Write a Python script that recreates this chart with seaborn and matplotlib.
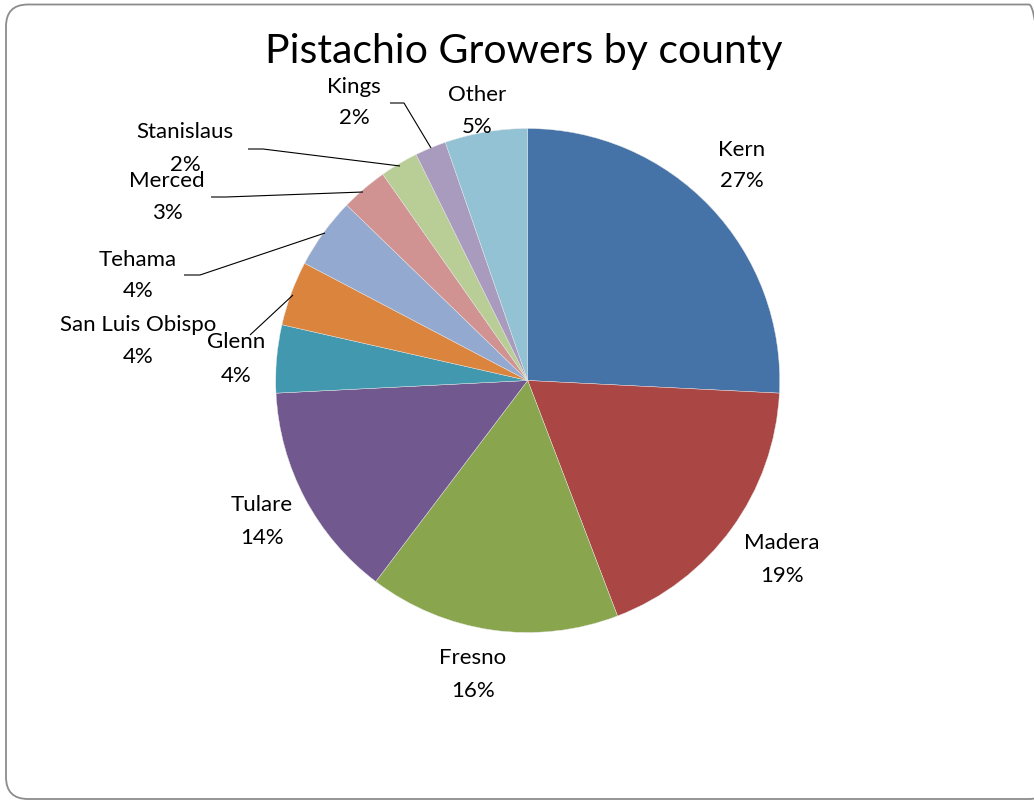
import matplotlib
matplotlib.use("Agg")
import matplotlib.pyplot as plt
from matplotlib.patches import FancyBboxPatch
import seaborn as sns

# ---- data ----
counties = ["Kern", "Madera", "Fresno", "Tulare", "Glenn", "San Luis Obispo",
            "Tehama", "Merced", "Stanislaus", "Kings", "Other"]
shares = [25.8, 18.4, 16.1, 13.9, 4.35, 4.15, 4.55, 3.0, 2.45, 2.0, 5.3]
pct_labels = ["27%", "19%", "16%", "14%", "4%", "4%", "4%", "3%", "2%", "2%", "5%"]
colors = ["#4572A7", "#AA4643", "#89A54E", "#71588F", "#4198AF", "#DB843D",
          "#93A9CF", "#D19392", "#B9CD96", "#A99BBD", "#92C2D4"]
title = "Pistachio Growers by county"

sns.set_theme(style="white")
plt.rcParams["font.family"] = ["Lato", "DejaVu Sans"]
palette = sns.color_palette(colors)

W, H = 1034, 800
fig = plt.figure(figsize=(W / 100, H / 100), dpi=100)
ax = fig.add_axes([0, 0, 1, 1])

cx, cy, R = 527.7, H - 380.5, 252.0
ax.pie(shares, colors=palette, startangle=90, counterclock=False,
       center=(cx, cy), radius=R,
       wedgeprops=dict(edgecolor="#e8e8e8", linewidth=0.3))
ax.set_xlim(0, W)
ax.set_ylim(0, H)
ax.set_aspect("equal")
ax.axis("off")

# slide frame
frame = FancyBboxPatch((6, 1), 1045, H - 5.5, boxstyle="round,pad=0,rounding_size=22",
                       transform=ax.transData, fill=False, edgecolor="#8c8c8c",
                       linewidth=1.3, clip_on=False)
ax.add_patch(frame)

def Y(y):
    return H - y

ax.text(524, Y(52), title, ha="center", va="center", fontsize=29.5, color="black")

# label layout (pixel positions, from top)
label_pos = {
    "Kern": (742, 150, 181),
    "Madera": (782, 543, 576),
    "Fresno": (473, 658, 691),
    "Tulare": (262, 505, 538),
    "Glenn": (236, 342, 376),
    "San Luis Obispo": (138, 325, 357),
    "Tehama": (138, 260, 291),
    "Merced": (167, 181, 213),
    "Stanislaus": (185, 132, 165),
    "Kings": (354, 87, 118),
    "Other": (477, 95, 127),
}
for name, pct in zip(counties, pct_labels):
    x, y1, y2 = label_pos[name]
    ax.text(x, Y(y1), name, ha="center", va="center", fontsize=16, color="black")
    ax.text(x, Y(y2), pct, ha="center", va="center", fontsize=16, color="black")

# leader lines
leaders = [
    [(390, 103), (404, 103), (431, 148)],
    [(248, 149), (263, 149), (400, 166)],
    [(211, 197), (226, 197), (363, 192)],
    [(184, 275), (200, 275), (325, 233)],
    [(250, 335), (293, 295)],
]
for pts in leaders:
    xs = [p[0] for p in pts]
    ys = [Y(p[1]) for p in pts]
    ax.plot(xs, ys, color="black", linewidth=0.8, solid_capstyle="butt")

fig.savefig("out.png", dpi=100)
